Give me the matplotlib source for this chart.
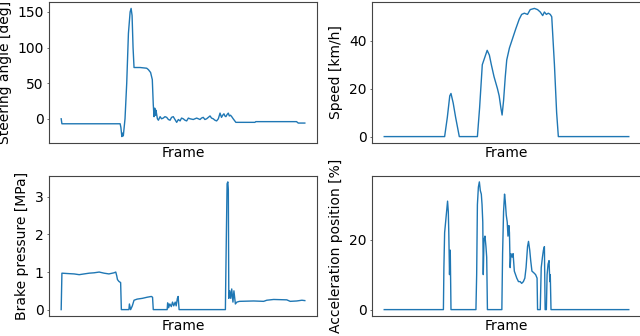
import matplotlib
matplotlib.use("Agg")
import matplotlib.pyplot as plt

# ---- Steering angle [deg]
steer_frame = [0, 3, 242, 245, 249, 253, 255, 262, 269, 276, 283, 287, 291, 295, 299, 324, 351, 358, 367, 374,
               378, 381, 384, 387, 389, 395, 399, 406, 412, 419, 426, 433, 440, 447, 453, 460, 467, 474, 481, 488,
               494, 501, 508, 515, 522, 529, 542, 556, 563, 570, 576, 583, 590, 597, 604, 611, 617, 624, 631, 638,
               645, 652, 658, 663, 668, 672, 676, 681, 686, 690, 695, 700, 706, 717, 795, 799, 966, 973, 1000]
steer_val = [0, -7, -7, -12, -25, -20, -24, 0, 50, 120, 150, 155, 145, 100, 72, 72, 71, 69, 65, 55,
             20, 3, 15, 5, 12, 0, -2, 3, 0, 1, 3, 2, -1, -2, 2, 3, -1, -5, -1, -3,
             1, 0, -2, -3, 1, 0, -1, 1, 0, -1, 1, 2, -1, 0, 2, 4, 1, 0, -2, -3,
             0, 8, 2, 5, 7, 4, 3, 6, 8, 4, 5, 3, 0, -5, -5, -4, -4, -6, -6]

# ---- Speed [km/h]
speed_frame = [0, 247, 258, 268, 273, 282, 292, 307, 381, 390, 401, 411, 421, 430, 438, 449, 463, 470, 477, 482,
               488, 495, 501, 512, 525, 538, 552, 562, 573, 586, 597, 614, 627, 638, 648, 655, 663, 671, 679, 685,
               696, 705, 712, 1000]
speed_val = [0, 0, 8, 17, 18, 14, 8, 0, 0, 12, 30, 33, 36, 34, 30, 25, 20, 17, 12, 9,
             15, 25, 32, 37, 41, 45, 49, 51, 51.5, 51, 53, 53.5, 53, 52, 50.5, 52, 51, 51.5, 51, 50,
             30, 10, 0, 0]

# ---- Brake pressure [MPa]
brake_frame = [0, 3, 26, 53, 74, 94, 115, 135, 156, 176, 196, 217, 224, 228, 231, 237, 244, 247, 278, 280,
               285, 292, 299, 312, 333, 353, 370, 375, 378, 435, 437, 441, 446, 452, 457, 462, 468, 472, 477, 480,
               484, 674, 675, 678, 681, 684, 686, 688, 692, 696, 700, 705, 709, 715, 721, 732, 790, 831, 844, 872,
               926, 940, 967, 988, 1000]
brake_val = [0, 0.97, 0.96, 0.95, 0.93, 0.95, 0.97, 0.98, 1.0, 0.97, 0.95, 0.98, 1.0, 0.9, 0.8, 0.75, 0.72, 0, 0, 0.15,
             0, 0.1, 0.25, 0.28, 0.3, 0.33, 0.35, 0.33, 0, 0, 0.18, 0.05, 0.15, 0.08, 0.2, 0.1, 0.2, 0.1, 0.3, 0.35,
             0, 0, 0.55, 2.0, 3.35, 3.4, 3.2, 0.3, 0.5, 0.3, 0.55, 0.2, 0.5, 0.15, 0.2, 0.22, 0.23, 0.22, 0.25, 0.27,
             0.26, 0.22, 0.23, 0.25, 0.24]

# ---- Acceleration position [%]
accel_frame = [0, 242, 244, 247, 251, 255, 259, 262, 264, 267, 270, 273, 375, 378, 381, 385, 389, 393, 397, 400,
               403, 405, 408, 412, 416, 419, 422, 481, 484, 488, 492, 495, 499, 503, 506, 510, 512, 515, 518, 523,
               527, 532, 537, 542, 549, 556, 562, 569, 575, 580, 586, 590, 595, 599, 604, 612, 619, 625, 627, 638,
               642, 647, 651, 655, 658, 663, 666, 670, 674, 677, 679, 682, 1000]
accel_val = [0, 0, 12, 22, 25, 28, 31, 28, 22, 10, 17, 0, 0, 10, 30, 35, 36.5, 34, 33, 30,
             25, 10, 20, 21, 18, 15, 0, 0, 16, 28, 33, 31, 27, 25, 21, 24, 22, 12, 16, 15,
             16, 11, 10, 9, 8, 8, 7.5, 8, 9, 12, 18, 19.5, 17, 14, 11, 10.5, 10, 9, 0, 0,
             12, 15, 17, 18, 0, 0, 10, 13, 14, 8, 10, 0, 0]

panels = [
    (steer_frame, steer_val, "Steering angle [deg]", [0, 50, 100, 150]),
    (speed_frame, speed_val, "Speed [km/h]", [0, 20, 40]),
    (brake_frame, brake_val, "Brake pressure [MPa]", [0, 1, 2, 3]),
    (accel_frame, accel_val, "Acceleration position [%]", [0, 20]),
]

fig = plt.figure(figsize=(6.4, 3.36), dpi=100)
W, H = 640.0, 336.0
rects = [
    (49, 2, 317, 143),
    (372, 2, 641, 143),
    (49, 175.5, 317, 316),
    (372, 175.5, 641, 316),
]
fs = 10
for (fr, val, lab, ticks), (l, t, r, b) in zip(panels, rects):
    ax = fig.add_axes([l / W, 1 - b / H, (r - l) / W, (b - t) / H])
    ax.plot(fr, val, color="#1f77b4", linewidth=1.0)
    ax.set_xticks([])
    ax.set_yticks(ticks)
    ax.tick_params(axis="y", labelsize=fs, length=1.5, pad=2.5, width=0.6, color="#555555")
    ax.set_xlabel("Frame", fontsize=fs, labelpad=2)
    ax.set_ylabel(lab, fontsize=fs, labelpad=4)
    for s in ax.spines.values():
        s.set_linewidth(0.8)
        s.set_color("#444444")

fig.savefig("out.png", dpi=100)
